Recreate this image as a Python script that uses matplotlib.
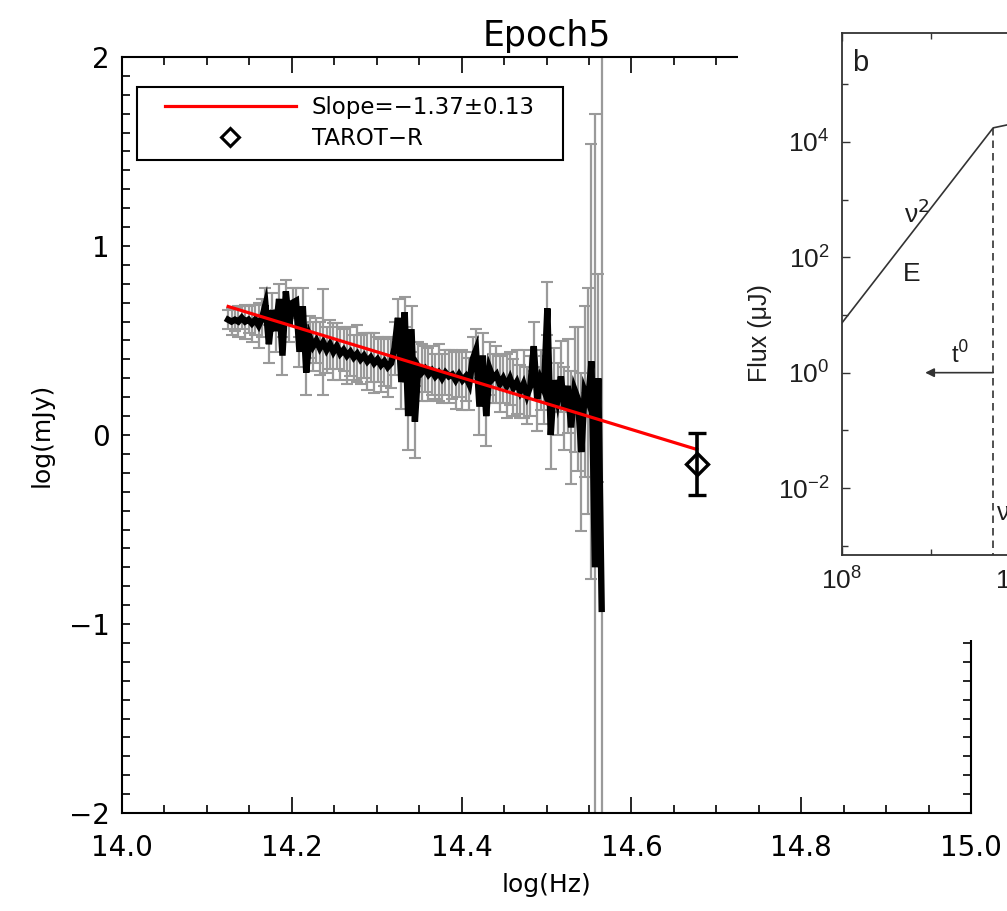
import numpy as np
import matplotlib
matplotlib.use("Agg")
import matplotlib.pyplot as plt
from matplotlib.lines import Line2D
from matplotlib.patches import Rectangle

# ---------------- data ----------------
log_freq = [14.125, 14.129, 14.133, 14.137, 14.141, 14.145, 14.149, 14.153, 14.157, 14.161,
            14.165, 14.169, 14.173, 14.177, 14.181, 14.185, 14.189, 14.193, 14.197, 14.201,
            14.205, 14.209, 14.213, 14.217, 14.221, 14.225, 14.229, 14.233, 14.237, 14.241,
            14.245, 14.249, 14.253, 14.257, 14.261, 14.265, 14.269, 14.273, 14.277, 14.281,
            14.285, 14.289, 14.293, 14.297, 14.301, 14.305, 14.309, 14.313, 14.317, 14.321,
            14.325, 14.329, 14.333, 14.337, 14.341, 14.345, 14.349, 14.353, 14.357, 14.361,
            14.365, 14.369, 14.373, 14.377, 14.381, 14.385, 14.389, 14.393, 14.397, 14.401,
            14.405, 14.409, 14.413, 14.417, 14.421, 14.425, 14.429, 14.433, 14.437, 14.441,
            14.445, 14.449, 14.453, 14.457, 14.461, 14.465, 14.469, 14.473, 14.477, 14.481,
            14.485, 14.489, 14.493, 14.497, 14.501, 14.505, 14.509, 14.513, 14.517, 14.521,
            14.525, 14.529, 14.533, 14.537, 14.541, 14.545, 14.549, 14.553, 14.557, 14.561,
            14.565]
log_flux = [0.61, 0.60, 0.61, 0.60, 0.62, 0.60, 0.61, 0.59, 0.61, 0.58,
            0.62, 0.69, 0.48, 0.66, 0.55, 0.72, 0.42, 0.76, 0.58, 0.70,
            0.71, 0.44, 0.68, 0.33, 0.52, 0.47, 0.50, 0.46, 0.49, 0.45,
            0.48, 0.44, 0.47, 0.43, 0.45, 0.42, 0.44, 0.41, 0.43, 0.40,
            0.42, 0.39, 0.41, 0.38, 0.40, 0.37, 0.39, 0.36, 0.38, 0.46,
            0.62, 0.28, 0.65, 0.10, 0.56, 0.07, 0.36, 0.33, 0.35, 0.32,
            0.34, 0.31, 0.33, 0.30, 0.33, 0.31, 0.32, 0.29, 0.32, 0.29,
            0.31, 0.27, 0.40, 0.45, 0.15, 0.42, 0.10, 0.35, 0.30, 0.32,
            0.27, 0.30, 0.26, 0.30, 0.25, 0.28, 0.23, 0.27, 0.21, 0.26,
            0.47, 0.19, 0.29, 0.24, 0.67, 0.00, 0.29, 0.19, 0.31, 0.14,
            0.26, 0.04, 0.24, 0.19, -0.09, 0.23, 0.18, 0.39, -0.70, 0.30,
            -0.92]
log_flux_err = [0.05, 0.07, 0.06, 0.08, 0.06, 0.09, 0.07, 0.10, 0.08, 0.12,
                0.10, 0.09, 0.10, 0.09, 0.11, 0.08, 0.10, 0.06, 0.09, 0.08,
                0.07, 0.08, 0.10, 0.12, 0.11, 0.13, 0.12, 0.14, 0.28, 0.12,
                0.13, 0.15, 0.12, 0.14, 0.11, 0.15, 0.13, 0.12, 0.15, 0.13,
                0.12, 0.15, 0.13, 0.16, 0.12, 0.14, 0.13, 0.16, 0.13, 0.14,
                0.10, 0.14, 0.08, 0.18, 0.12, 0.19, 0.13, 0.15, 0.12, 0.14,
                0.13, 0.12, 0.15, 0.13, 0.12, 0.14, 0.13, 0.15, 0.12, 0.16,
                0.13, 0.14, 0.12, 0.11, 0.15, 0.12, 0.16, 0.14, 0.13, 0.15,
                0.15, 0.13, 0.17, 0.14, 0.15, 0.17, 0.14, 0.18, 0.15, 0.16,
                0.13, 0.17, 0.16, 0.18, 0.14, 0.18, 0.17, 0.19, 0.19, 0.22,
                0.25, 0.30, 0.33, 0.38, 0.42, 0.45, 0.60, 1.15, 2.40, 0.55,
                3.10]

fit_slope = -1.37
fit_slope_err = 0.13
fit_x = [14.125, 14.677]
fit_y0 = 0.68            # value of the fit at the first fit_x

tarot_x = [14.677]
tarot_y = [-0.155]
tarot_err = [0.165]

# inset (panel b) broken power-law sketch
inset_nu = [1e8, 4.9e9, 1e11]
inset_flux = [7.3, 1.75e4, 4.7e4]
inset_nu_break = 4.9e9

# ---------------- figure ----------------
W, H = 1007, 911
fig = plt.figure(figsize=(W / 100, H / 100), dpi=100)
plt.rcParams['font.family'] = ['DejaVu Sans']


def fig_rect(x0, y_top, x1, y_bot):
    return [x0 / W, 1 - y_bot / H, (x1 - x0) / W, (y_bot - y_top) / H]


ax = fig.add_axes(fig_rect(122, 57, 971, 813))

ax.errorbar(log_freq, log_flux, yerr=log_flux_err, fmt='none', ecolor='#9a9a9a',
            elinewidth=1.6, capsize=4.5, capthick=1.5, zorder=2)
ax.plot(log_freq, log_flux, color='black', lw=4.6, solid_joinstyle='miter', zorder=3)

fx = np.array(fit_x)
fy = fit_y0 + fit_slope * (fx - fit_x[0])
ax.plot(fx, fy, color='#ff0000', lw=2.3, zorder=4)

ax.errorbar(tarot_x, tarot_y, yerr=tarot_err, fmt='D', mfc='none', mec='black',
            mew=2.4, ms=11, ecolor='black', elinewidth=2.6, capsize=6.5,
            capthick=2.6, zorder=5)

ax.set_xlim(14.0, 15.0)
ax.set_ylim(-2, 2)
ax.set_xticks([14.0, 14.2, 14.4, 14.6, 14.8, 15.0])
ax.set_xticklabels(['14.0', '14.2', '14.4', '14.6', '14.8', '15.0'])
ax.set_xticks(np.arange(14.0, 15.001, 0.05), minor=True)
ax.set_yticks([-2, -1, 0, 1, 2])
ax.set_yticklabels(['\u22122', '\u22121', '0', '1', '2'])
ax.set_yticks(np.arange(-2, 2.001, 0.1), minor=True)
ax.tick_params(axis='both', which='both', direction='in', top=True, right=True,
               width=1.2, color='black', labelsize=20)
ax.tick_params(axis='x', which='major', length=11.5, pad=15)
ax.tick_params(axis='x', which='minor', length=5.8)
ax.tick_params(axis='y', which='both', length=5.8, pad=9)
for s in ax.spines.values():
    s.set_linewidth(1.5)

ax.set_xlabel('log(Hz)', fontsize=18, labelpad=8)
ax.set_ylabel('log(mJy)', fontsize=18, labelpad=11)
ax.set_title('Epoch5', fontsize=25, pad=8)

# legend
h_fit = Line2D([], [], color='#ff0000', lw=2.3)
h_tarot = Line2D([], [], marker='D', ls='none', mfc='none', mec='black', mew=2.2, ms=9)
leg = ax.legend([h_fit, h_tarot],
                ['Slope=\u2212%.2f\u00b1%.2f' % (-fit_slope, fit_slope_err), 'TAROT\u2212R'],
                loc='upper left', bbox_to_anchor=((165 - 122) / 849, (813 - 96) / 756),
                borderaxespad=0, borderpad=0, frameon=False, fontsize=16.5,
                handlelength=5.7, handletextpad=0.7, labelspacing=0.35)
ax.add_patch(Rectangle(((137 - 122) / 849, (813 - 160) / 756), (563 - 137) / 849,
                       (160 - 87) / 756, transform=ax.transAxes, fill=False,
                       edgecolor='black', lw=1.5, zorder=6))

# ---------------- inset (panel b) ----------------
bg = fig.add_axes(fig_rect(738, 0, 1007, 640), zorder=5)
bg.set_facecolor('white')
bg.set_xticks([])
bg.set_yticks([])
for s in bg.spines.values():
    s.set_visible(False)

ink = '#333333'
tink = '#1e1e1e'
ifont = 'Liberation Sans'
ax2 = fig.add_axes(fig_rect(842, 33, 1300, 555), zorder=6)
ax2.set_xscale('log')
ax2.set_yscale('log')
ax2.set_xlim(1e8, 10 ** 13.12)
ax2.set_ylim(10 ** -3.16, 10 ** 5.887)
ax2.plot(inset_nu, inset_flux, color=ink, lw=1.2)
ax2.plot([inset_nu_break, inset_nu_break], [inset_flux[1], 1e-5], color=ink, lw=1.2,
         ls=(0, (4.5, 3.0)))
ax2.annotate('', xy=(10 ** 8.93, 1.0), xytext=(inset_nu_break, 1.0),
             arrowprops=dict(arrowstyle='-|>', color=ink, lw=1.2, mutation_scale=13,
                             shrinkA=0, shrinkB=0))
ax2.text(10 ** 9.32, 10 ** 0.07, 't$^0$', ha='center', va='bottom', fontsize=17,
         family=ifont, color=tink)
ax2.text(10 ** 8.839, 10 ** 2.753, '\u03bd$^2$', ha='center', va='center', fontsize=19,
         family=ifont, color=tink)
ax2.text(10 ** 8.78, 10 ** 1.714, 'E', ha='center', va='center', fontsize=19,
         family=ifont, color=tink)
ax2.text(10 ** 8.2, 10 ** 5.368, 'b', ha='center', va='center', fontsize=21,
         family=ifont, color=tink)
ax2.text(10 ** 9.72, 10 ** -2.46, '\u03bd$_a$', ha='left', va='center', fontsize=18,
         family=ifont, color=tink)

ax2.set_yticks([1e-2, 1, 1e2, 1e4])
ax2.set_yticklabels([r'$\mathregular{10^{-2}}$', r'$\mathregular{10^{0}}$',
                     r'$\mathregular{10^{2}}$', r'$\mathregular{10^{4}}$'],
                    family=ifont, fontsize=19, color=tink)
ax2.set_yticks([1e-3, 1e-1, 1e1, 1e3, 1e5], minor=True)
ax2.set_yticklabels([], minor=True)
ax2.set_xticks([1e8, 1e10, 1e12])
ax2.set_xticklabels([r'$\mathregular{10^{8}}$', r'$\mathregular{10^{10}}$',
                     r'$\mathregular{10^{12}}$'], family=ifont, fontsize=19, color=tink)
ax2.set_xticks([1e9, 1e11], minor=True)
ax2.set_xticklabels([], minor=True)
ax2.tick_params(axis='both', which='both', direction='in', top=True, right=False,
                color=ink, width=1.0)
ax2.tick_params(axis='both', which='major', length=6, pad=9)
ax2.tick_params(axis='both', which='minor', length=4)
for s in ax2.spines.values():
    s.set_color(ink)
    s.set_linewidth(1.3)
ax2.spines['right'].set_visible(False)
fig.text(760 / W, 1 - 333 / H, 'Flux (\u03bcJ)', rotation=90, ha='center', va='center',
         fontsize=18, family=ifont, color=tink, zorder=7)

fig.savefig('out.png', dpi=100)
